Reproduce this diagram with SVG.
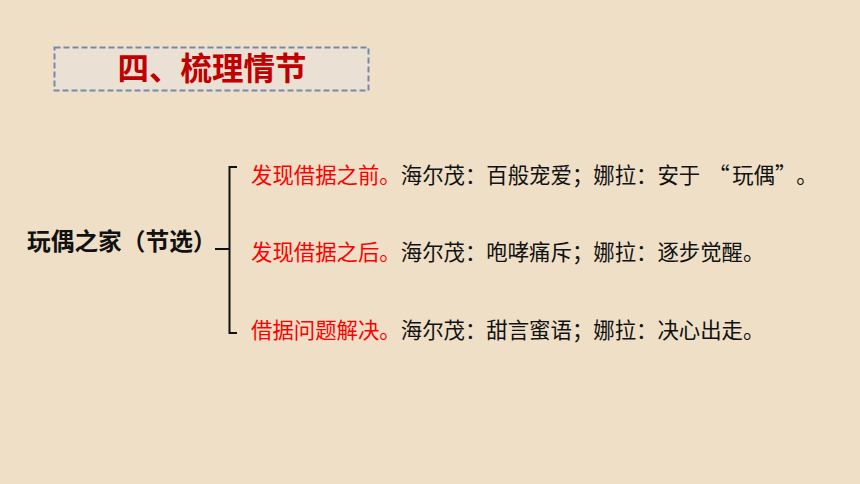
<svg xmlns="http://www.w3.org/2000/svg" width="860" height="484" viewBox="0 0 860 484">
<style>
.cjk{font-family:"Noto Sans CJK SC","Noto Sans CJK TC",sans-serif;}
.item{font-size:21.4px;fill:#111;}
.red{fill:#FF0000;}
</style>
<rect width="860" height="484" fill="#EEDFC6"/>
<g id="title">
<rect x="54.5" y="47.5" width="314" height="43" fill="#EAE0D3" stroke="#7689AD" stroke-width="2" stroke-dasharray="6,3"/>
<text class="cjk" x="212" y="80" font-size="31.5" font-weight="bold" fill="#C00000" text-anchor="middle">四、梳理情节</text>
</g>
<g id="root">
<text class="cjk" x="27" y="250" font-size="23.7" font-weight="bold" fill="#111">玩偶之家（节选）</text>
</g>
<g id="connectors" fill="none" stroke="#111" stroke-width="2">
<path d="M237,167 H229.5 V333 H237"/>
<path d="M215,249 H229.5"/>
</g>
<g id="item1">
<text class="cjk item" x="251" y="183"><tspan class="red">发现借据之前。</tspan>海尔茂：百般宠爱；娜拉：安于<tspan dx="8">“</tspan><tspan dx="2.5">玩偶”</tspan><tspan dx="10.5">。</tspan></text>
</g>
<g id="item2">
<text class="cjk item" x="251" y="260"><tspan class="red">发现借据之后。</tspan>海尔茂：咆哮痛斥；娜拉：逐步觉醒。</text>
</g>
<g id="item3">
<text class="cjk item" x="251" y="338"><tspan class="red">借据问题解决。</tspan>海尔茂：甜言蜜语；娜拉：决心出走。</text>
</g>
</svg>
